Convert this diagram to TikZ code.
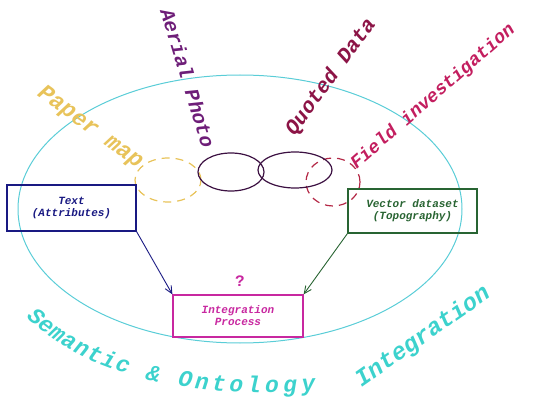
\documentclass[tikz,border=0pt]{standalone}
\usepackage{fontspec}
\setmonofont{Liberation Mono}
\usetikzlibrary{arrows.meta,shapes.geometric}
\tikzset{>={Straight Barb[width=2.4mm,length=2.6mm,line width=0.9pt]}}
\definecolor{cyanline}{RGB}{90,205,215}
\definecolor{cyantext}{RGB}{60,210,205}
\definecolor{gold}{RGB}{232,195,90}
\definecolor{plum}{RGB}{110,30,120}
\definecolor{wine}{RGB}{140,20,70}
\definecolor{crimson}{RGB}{195,30,95}
\definecolor{navyb}{RGB}{25,25,130}
\definecolor{greenb}{RGB}{40,100,50}
\definecolor{magb}{RGB}{200,40,160}
\definecolor{reddash}{RGB}{180,40,70}

\begin{document}
\begin{tikzpicture}[x=1pt,y=1pt,font=\ttfamily\itshape]
\tikzstyle{box}=[draw,line width=1.2pt,minimum width=129,minimum height=44,align=center,inner sep=2,font=\ttfamily\bfseries\itshape\fontsize{11}{12}\selectfont]
\tikzstyle{ring}=[ellipse,draw,inner sep=0,line width=1.2pt]
\tikzstyle{lbl}=[inner sep=0]
\tikzstyle{dsh}=[dash pattern=on 8pt off 6pt]
    \useasboundingbox (0,0) rectangle (544,405);

    % outer ellipse
    \node[ring, cyanline, line width=1pt, minimum width=444, minimum height=268] (sem) at (240,196){};

    % data sources
    \node[ring, gold, dsh, minimum width=66, minimum height=44] (pap) at (168,225){};
    \node[ring, reddash, dsh, minimum width=54, minimum height=48] (fld) at (333,223){};
    \node[ring, plum!55!black, minimum width=66, minimum height=38] (aer) at (231,233){};
    \node[ring, plum!55!black, minimum width=74, minimum height=36] (quo) at (295,235){};

    \node[lbl, gold, rotate=-36, font=\ttfamily\bfseries\itshape\fontsize{23}{23}\selectfont] (l1) at (90,277){Paper map};
    \node[lbl, plum, rotate=-73, font=\ttfamily\bfseries\itshape\fontsize{20}{20}\selectfont] (l2) at (188,327){Aerial Photo};
    \node[lbl, wine, rotate=54, font=\ttfamily\bfseries\itshape\fontsize{21}{21}\selectfont] (l3) at (331,328){Quoted Data};
    \node[lbl, crimson, rotate=41, font=\ttfamily\bfseries\itshape\fontsize{18.5}{18.5}\selectfont] (l4) at (433,308){Field investigation};

    % boxes
    \node[box, navyb, minimum height=46] (txt) at (71.5,197){Text\\(Attributes)};
    \node[box, greenb] (vec) at (412.5,194){Vector dataset\\(Topography)};
    \node[box, magb, minimum width=130, minimum height=42] (int) at (238,89){Integration\\Process};
    \node[lbl, magb, font=\ttfamily\bfseries\fontsize{16}{16}\selectfont] (q) at (240,124){?};

    \draw[->, navyb, line width=0.9pt] (txt.south east) -- (int.north west);
    \draw[->, greenb, line width=0.9pt] (vec.south west) -- (int.north east);

    % bottom labels
    \node[lbl, cyantext, rotate=35, font=\ttfamily\bfseries\itshape\fontsize{24}{24}\selectfont] (l5) at (423,68){Integration};
    \path (26,88) .. controls (90,25) and (200,6) .. (318,14)
      foreach \ch [count=\i] in {S,e,m,a,n,t,i,c,{},\&,{},O,n,t,o,l,o,g,y}
        {node[lbl, cyantext, sloped, pos=(\i-0.5)/19, anchor=base, font=\ttfamily\bfseries\itshape\fontsize{23}{23}\selectfont] (s\i) {\ch}};
\end{tikzpicture}
\end{document}
